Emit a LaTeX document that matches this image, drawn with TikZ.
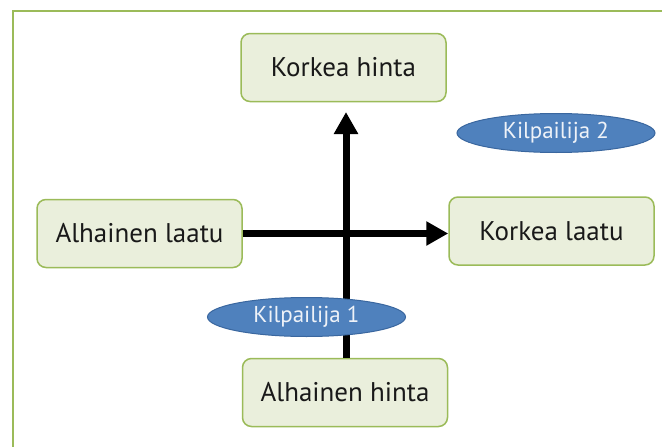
\documentclass[tikz,border=0pt]{standalone}
\usepackage{fontspec}
\setmainfont{PT Sans}
\usetikzlibrary{shapes.geometric,arrows.meta}
\definecolor{frameGreen}{HTML}{9BBB59}
\definecolor{boxFill}{HTML}{EAEFDC}
\definecolor{boxLine}{HTML}{9BBB59}
\definecolor{ovalFill}{HTML}{4F81BD}
\definecolor{ovalLine}{HTML}{3A679F}
\definecolor{ovalText}{HTML}{EEF2F8}
\tikzset{
  posbox/.style={rounded corners=9pt, draw=boxLine, line width=1.5pt, fill=boxFill,
    minimum width=205pt, minimum height=68pt, font=\fontsize{27}{30}\selectfont, text=black!90},
  rival/.style={ellipse, draw=ovalLine, line width=1pt, fill=ovalFill,
    minimum width=198pt, minimum height=39pt, inner sep=0pt, font=\fontsize{23}{26}\selectfont, text=ovalText},
  axis/.style={line width=7pt, -{Triangle[length=22pt,width=23pt]}}
}
\begin{document}
\begin{tikzpicture}[x=1pt,y=-1pt]
  \useasboundingbox (0,0) rectangle (662,447);
  \fill[white] (0,0) rectangle (662,447);
  % outer frame, running past the page edge on the right and bottom
  \draw[frameGreen, line width=1.5pt] (13,460) -- (13,11) -- (680,11);

  \node[posbox] (hiPrice) at (343.5,67.5) {Korkea hinta};
  \node[posbox] (loQual) at (139.5,233.5) {Alhainen laatu};
  \node[posbox] (hiQual) at (551.5,231) {Korkea laatu};
  \node[posbox] (loPrice) at (345,392.5) {Alhainen hinta};

  % axes
  \coordinate (vTip) at (346,112);
  \draw[axis] (loPrice.north -| vTip) -- (vTip);
  \draw[axis] (loQual.east) -- (hiQual.west |- loQual.east);

  \node[rival] (rival2) at (556,133) {Kilpailija 2};
  \node[rival] (rival1) at (306.5,317) {Kilpailija 1};
\end{tikzpicture}
\end{document}
